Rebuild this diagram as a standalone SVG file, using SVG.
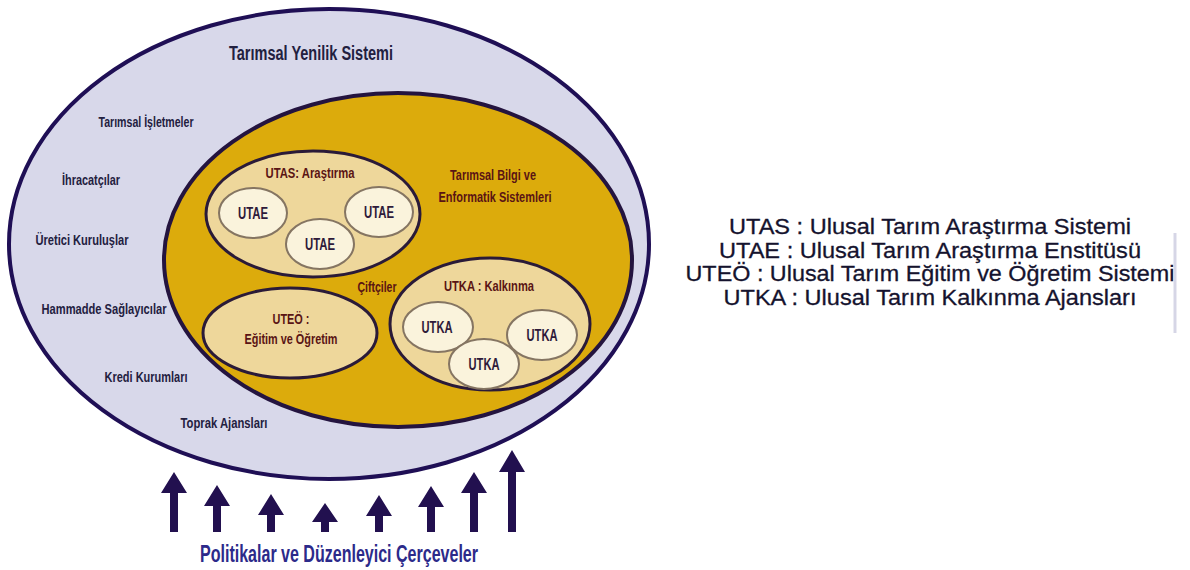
<svg xmlns="http://www.w3.org/2000/svg" width="1190" height="570" viewBox="0 0 1190 570">
  <style>
    .lbl { font-family: "Liberation Sans", Arial, sans-serif; font-weight: bold; font-size: 15px; fill: #23203f; text-anchor: middle; }
    .gold { font-family: "Liberation Sans", Arial, sans-serif; font-weight: bold; font-size: 15px; fill: #5a1414; text-anchor: middle; }
    .sub { font-family: "Liberation Sans", Arial, sans-serif; font-weight: bold; font-size: 16px; fill: #2e1a3a; text-anchor: middle; }
    .title { font-family: "Liberation Sans", Arial, sans-serif; font-weight: bold; font-size: 20px; fill: #22203f; text-anchor: middle; }
    .bottom { font-family: "Liberation Sans", Arial, sans-serif; font-weight: bold; font-size: 23px; fill: #2c2a8a; text-anchor: middle; }
    .legend { font-family: "Liberation Sans", Arial, sans-serif; font-size: 22px; fill: #15132e; stroke: #15132e; stroke-width: 0.3; text-anchor: middle; }
    .mid { fill: #eed79b; stroke: #2a1a38; stroke-width: 3; }
    .small { fill: #faf3dc; stroke: #857562; stroke-width: 2; }
    .arrow { fill: #22104f; }
  </style>

  <g id="outer">
    <ellipse cx="329" cy="244" rx="320" ry="235" fill="#d8d8ea" stroke="#1f0f55" stroke-width="4"/>
    <text class="title" x="311" y="60" textLength="164" lengthAdjust="spacingAndGlyphs">Tarımsal Yenilik Sistemi</text>
    <text class="lbl" x="146" y="127" textLength="95" lengthAdjust="spacingAndGlyphs">Tarımsal İşletmeler</text>
    <text class="lbl" x="91" y="185" textLength="58" lengthAdjust="spacingAndGlyphs">İhracatçılar</text>
    <text class="lbl" x="82" y="245" textLength="93" lengthAdjust="spacingAndGlyphs">Üretici Kuruluşlar</text>
    <text class="lbl" x="104" y="314" textLength="125" lengthAdjust="spacingAndGlyphs">Hammadde Sağlayıcılar</text>
    <text class="lbl" x="146" y="382" textLength="83" lengthAdjust="spacingAndGlyphs">Kredi Kurumları</text>
    <text class="lbl" x="224" y="428" textLength="87" lengthAdjust="spacingAndGlyphs">Toprak Ajansları</text>
  </g>

  <g id="bilgi">
    <ellipse cx="398" cy="260" rx="234" ry="167" fill="#dcab0c" stroke="#24143f" stroke-width="4"/>
    <text class="gold" x="493" y="180" textLength="86" lengthAdjust="spacingAndGlyphs">Tarımsal Bilgi ve</text>
    <text class="gold" x="495" y="202" textLength="113" lengthAdjust="spacingAndGlyphs">Enformatik Sistemleri</text>
    <text class="gold" x="377" y="292" textLength="39" lengthAdjust="spacingAndGlyphs">Çiftçiler</text>
  </g>

  <g id="utas">
    <ellipse class="mid" cx="313" cy="214" rx="107" ry="63"/>
    <text class="gold" x="310" y="178" textLength="89" lengthAdjust="spacingAndGlyphs">UTAS: Araştırma</text>
    <g id="utae1"><ellipse class="small" cx="253" cy="213" rx="34" ry="25"/><text class="sub" x="253" y="219" textLength="30" lengthAdjust="spacingAndGlyphs">UTAE</text></g>
    <g id="utae2"><ellipse class="small" cx="379" cy="212" rx="34" ry="25"/><text class="sub" x="379" y="218" textLength="30" lengthAdjust="spacingAndGlyphs">UTAE</text></g>
    <g id="utae3"><ellipse class="small" cx="320" cy="244" rx="34" ry="25"/><text class="sub" x="320" y="250" textLength="30" lengthAdjust="spacingAndGlyphs">UTAE</text></g>
  </g>

  <g id="uteo">
    <ellipse class="mid" cx="290" cy="333" rx="87" ry="45"/>
    <text class="gold" x="291" y="324" textLength="37" lengthAdjust="spacingAndGlyphs">UTEÖ :</text>
    <text class="gold" x="291" y="344" textLength="93" lengthAdjust="spacingAndGlyphs">Eğitim ve Öğretim</text>
  </g>

  <g id="utka">
    <ellipse class="mid" cx="490" cy="324" rx="100" ry="66"/>
    <text class="gold" x="489" y="291" textLength="90" lengthAdjust="spacingAndGlyphs">UTKA : Kalkınma</text>
    <g id="utka1"><ellipse class="small" cx="438" cy="327" rx="35" ry="25"/><text class="sub" x="437" y="333" textLength="31" lengthAdjust="spacingAndGlyphs">UTKA</text></g>
    <g id="utka2"><ellipse class="small" cx="542" cy="335" rx="35" ry="25"/><text class="sub" x="542" y="341" textLength="31" lengthAdjust="spacingAndGlyphs">UTKA</text></g>
    <g id="utka3"><ellipse class="small" cx="484" cy="364" rx="35" ry="25"/><text class="sub" x="484" y="370" textLength="31" lengthAdjust="spacingAndGlyphs">UTKA</text></g>
  </g>

  <g id="connectors">
    <path class="arrow" d="M174 472 L187 493 L178 493 L178 532 L170 532 L170 493 L161 493 Z"/>
    <path class="arrow" d="M217 485 L230 506 L221 506 L221 532 L213 532 L213 506 L204 506 Z"/>
    <path class="arrow" d="M271 494 L284 515 L275 515 L275 532 L267 532 L267 515 L258 515 Z"/>
    <path class="arrow" d="M325 503 L338 522 L329 522 L329 532 L321 532 L321 522 L312 522 Z"/>
    <path class="arrow" d="M379 495 L392 516 L383 516 L383 532 L375 532 L375 516 L366 516 Z"/>
    <path class="arrow" d="M431 486 L444 507 L435 507 L435 532 L427 532 L427 507 L418 507 Z"/>
    <path class="arrow" d="M474 472 L487 493 L478 493 L478 532 L470 532 L470 493 L461 493 Z"/>
    <path class="arrow" d="M512 450 L525 472 L516 472 L516 532 L508 532 L508 472 L499 472 Z"/>
  </g>

  <g id="policy">
    <text class="bottom" x="339" y="562" textLength="278" lengthAdjust="spacingAndGlyphs">Politikalar ve Düzenleyici Çerçeveler</text>
  </g>

  <g id="legend">
    <text class="legend" x="930" y="234" textLength="402" lengthAdjust="spacingAndGlyphs">UTAS : Ulusal Tarım Araştırma Sistemi</text>
    <text class="legend" x="930" y="258" textLength="422" lengthAdjust="spacingAndGlyphs">UTAE : Ulusal Tarım Araştırma Enstitüsü</text>
    <text class="legend" x="930" y="281" textLength="489" lengthAdjust="spacingAndGlyphs">UTEÖ : Ulusal Tarım Eğitim ve Öğretim Sistemi</text>
    <text class="legend" x="930" y="305" textLength="413" lengthAdjust="spacingAndGlyphs">UTKA : Ulusal Tarım Kalkınma Ajansları</text>
    <line x1="1175" y1="233" x2="1175" y2="333" stroke="#d6d6e6" stroke-width="3"/>
  </g>
</svg>
